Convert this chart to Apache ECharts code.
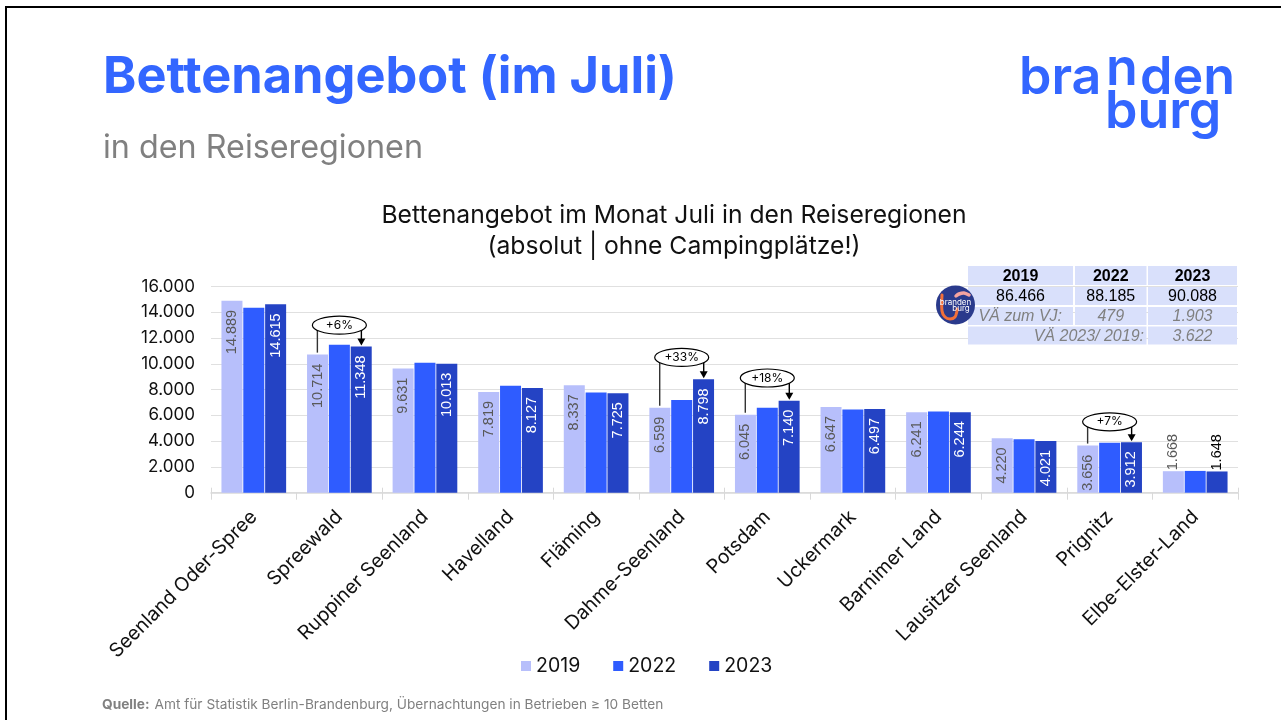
<!DOCTYPE html>
<html><head><meta charset="utf-8">
<style>html,body{margin:0;padding:0;background:#fff}#c{width:1281px;height:720px}</style>
<script src="https://cdn.jsdelivr.net/npm/echarts@6/dist/echarts.min.js"></script>
</head><body><div id="c"></div>
<script>
const categories = ['Seenland Oder-Spree','Spreewald','Ruppiner Seenland','Havelland','Fläming','Dahme-Seenland','Potsdam','Uckermark','Barnimer Land','Lausitzer Seenland','Prignitz','Elbe-Elster-Land'];
const values2019 = [14889,10714,9631,7819,8337,6599,6045,6647,6241,4220,3656,1668];
const values2022 = [14350,11480,10080,8300,7780,7200,6590,6450,6300,4150,3880,1690];
const values2023 = [14615,11348,10013,8127,7725,8798,7140,6497,6244,4021,3912,1648];
const valueTicks = {min:0,max:16000,interval:2000};
const bracketCats = [1,5,6,10];
const bracketLabels = ['+6%','+33%','+18%','+7%'];
const bracketTops = [13000,10500,8900,5500];
const tableHead = ['2019','2022','2023'];
const tableTotals = ['86.466','88.185','90.088'];
const tableChange = ['VÄ zum VJ:','479','1.903'];
const tableChange2 = ['VÄ 2023/ 2019:','3.622'];

const deDots = v => String(v).replace(/\B(?=(\d{3})+$)/g,'.');
const BODY = 'Inter, "Open Sans", sans-serif';
const ARIAL = '"Liberation Sans", Arial, sans-serif';

function items(vals, color){
  return vals.map(v => v < 3000
    ? {value:v,label:{position:'top',distance:1,align:'left',color:color.out}}
    : {value:v});
}
function barSeries(name,vals,color,lab){
  return {type:'bar',name,data:lab?items(vals,lab):vals,barWidth:21,barGap:'4%',
    itemStyle:{color},
    label:lab?{show:true,rotate:90,position:'insideTop',distance:9,align:'right',verticalAlign:'middle',
      fontFamily:ARIAL,fontSize:14.5,color:lab.in,formatter:p=>deDots(p.value)}:{show:false}};
}
const cell=(x,y,w,h)=>({type:'rect',shape:{x,y,width:w,height:h},style:{fill:'#d9e0fb'},z:20});
const txt=(x,y,t,o,z)=>({type:'text',x,y,z:z||21,style:Object.assign({text:t,align:'center',verticalAlign:'middle',fontFamily:ARIAL,fontSize:16,fill:'#000'},o||{})});
const colX=[[968,105],[1075,71.5],[1148,89]];
const centers=colX.map(c=>c[0]+c[1]/2);
const gray={fill:'#808080',fontStyle:'italic'};
const logoText=(x,y,t)=>({type:'text',x,y,z:5,style:{text:t,align:'left',verticalAlign:'top',fontFamily:BODY,fontWeight:600,fontSize:52,fill:'#3366ff'}});
const graphics=[
 {type:'polyline',shape:{points:[[6,720],[6,7],[1281,7]]},style:{stroke:'#000',lineWidth:2,fill:null},z:30},
 cell(968,266,105,19),cell(1075,266,71.5,19),cell(1148,266,89,19),
 cell(968,287,105,18),cell(1075,287,71.5,18),cell(1148,287,89,18),
 cell(968,307,105,18),cell(1075,307,71.5,18),cell(1148,307,89,18),
 cell(968,326.5,178.5,18),cell(1148,326.5,89,18),
 ...tableHead.map((t,i)=>txt(centers[i],276.5,t,{fontWeight:'bold'})),
 ...tableTotals.map((t,i)=>txt(centers[i],296.5,t)),
 txt(1062,316.5,tableChange[0],Object.assign({align:'right'},gray)),
 txt(centers[1],316.5,tableChange[1],gray),
 txt(centers[2],316.5,tableChange[2],gray),
 txt(1144,336.5,tableChange2[0],Object.assign({align:'right'},gray)),
 txt(centers[2],336.5,tableChange2[1],gray),
 {type:'circle',shape:{cx:955.5,cy:305,r:19.5},style:{fill:'#2a3a8c'},z:22},
 {type:'polyline',shape:{points:[[942,295],[942,311],[945,317],[950,319],[955,317],[957,311],[957,309]],smooth:0.3},style:{stroke:'#f2703a',lineWidth:3,fill:null,lineCap:'round'},z:23},
 {type:'polyline',shape:{points:[[956,296],[959,294],[964,293],[969,295]],smooth:0.3},style:{stroke:'#f5a3a0',lineWidth:3.5,fill:null,lineCap:'round'},z:23},
 txt(955.5,302.5,'branden',{fontFamily:BODY,fontSize:8,fill:'#fff'},24),
 txt(961,308.5,'burg',{fontFamily:BODY,fontSize:8,fill:'#fff'},24),
 logoText(1019,52,'bra'),logoText(1106,43,'n'),logoText(1140,52,'den'),logoText(1105,86,'burg')
];

const bracketData = bracketCats.map((c,i)=>[c,values2019[c],values2023[c],bracketTops[i],bracketLabels[i]]);
function renderBracket(params,api){
  const cat=api.value(0);
  const a=api.coord([cat,api.value(1)]), b=api.coord([cat,api.value(2)]), t=api.coord([cat,api.value(3)]);
  const cx=t[0], cy=t[1], lx=cx-22, rx=cx+22;
  const st={stroke:'#000',lineWidth:1.4,fill:null};
  return {type:'group',children:[
    {type:'line',shape:{x1:lx,y1:cy+3,x2:lx,y2:a[1]-2},style:{stroke:'#333',lineWidth:1.4}},
    {type:'line',shape:{x1:rx,y1:cy+3,x2:rx,y2:b[1]-6},style:st},
    {type:'polygon',shape:{points:[[rx-4,b[1]-8],[rx+4,b[1]-8],[rx,b[1]-1]]},style:{fill:'#000'}},
    {type:'ellipse',shape:{cx,cy,rx:27,ry:9},style:{fill:'#fff',stroke:'#000',lineWidth:1.2}},
    {type:'text',style:{text:api.value(4),x:cx,y:cy,align:'center',verticalAlign:'middle',fontFamily:BODY,fontSize:12,fill:'#000'}}
  ]};
}

const chart=echarts.init(document.getElementById('c'),null,{renderer:'canvas'});
chart.setOption({
  animation:false,backgroundColor:'#fff',
  title:[
   {text:'Bettenangebot (im Juli)',left:98,top:47,textStyle:{fontFamily:BODY,fontWeight:700,fontSize:50.5,color:'#3366ff'}},
   {text:'in den Reiseregionen',left:98,top:127,textStyle:{fontFamily:BODY,fontWeight:400,fontSize:32.3,color:'#808080'}},
   {text:'Bettenangebot im Monat Juli in den Reiseregionen\n(absolut | ohne Campingplätze!)',left:669,top:195,textAlign:'center',
    textStyle:{fontFamily:BODY,fontWeight:400,fontSize:24.7,lineHeight:31,color:'#111'}},
   {text:'{b|Quelle:} {n|Amt für Statistik Berlin-Brandenburg, Übernachtungen in Betrieben ≥ 10 Betten}',left:97,top:691,
    textStyle:{fontWeight:'normal',rich:{b:{fontFamily:BODY,fontWeight:700,fontSize:13.7,color:'#808080'},n:{fontFamily:BODY,fontWeight:400,fontSize:13.7,color:'#808080'}}}}
  ],
  legend:{data:['2019','2022','2023'],left:516,top:651,itemWidth:10,itemHeight:10,itemGap:33,icon:'rect',
    textStyle:{fontFamily:BODY,fontSize:19.5,color:'#111'}},
  grid:{left:211,right:43,top:286.5,bottom:227.3,containLabel:false},
  xAxis:[
   {type:'category',data:categories,axisLine:{lineStyle:{color:'#d9d9d9',width:1.5}},
    axisTick:{show:true,alignWithLabel:false,length:7,lineStyle:{color:'#d9d9d9'}},
    axisLabel:{interval:0,rotate:45,margin:21,fontFamily:BODY,fontSize:19.5,color:'#111'}},
   {type:'category',data:categories,position:'bottom',axisLine:{show:false},
    axisTick:{show:true,inside:true,length:5,lineStyle:{color:'#d9d9d9'}},axisLabel:{show:false}}
  ],
  yAxis:{type:'value',min:valueTicks.min,max:valueTicks.max,interval:valueTicks.interval,
    axisLine:{show:false},axisTick:{show:false},splitLine:{lineStyle:{color:'#e0e0e0',width:1.2}},
    axisLabel:{margin:16,fontFamily:BODY,fontSize:17,color:'#111',formatter:v=>deDots(v)}},
  series:[
   barSeries('2019',values2019,'#b7bffb',{in:'#595959',out:'#595959'}),
   barSeries('2022',values2022,'#2f5cff',null),
   barSeries('2023',values2023,'#2443c4',{in:'#ffffff',out:'#000000'}),
   {type:'custom',name:'Veränderung',data:bracketData,encode:{x:0,y:[1,2,3]},renderItem:renderBracket,clip:false,z:10,silent:true}
  ],
  graphic:graphics
});
</script></body></html>
